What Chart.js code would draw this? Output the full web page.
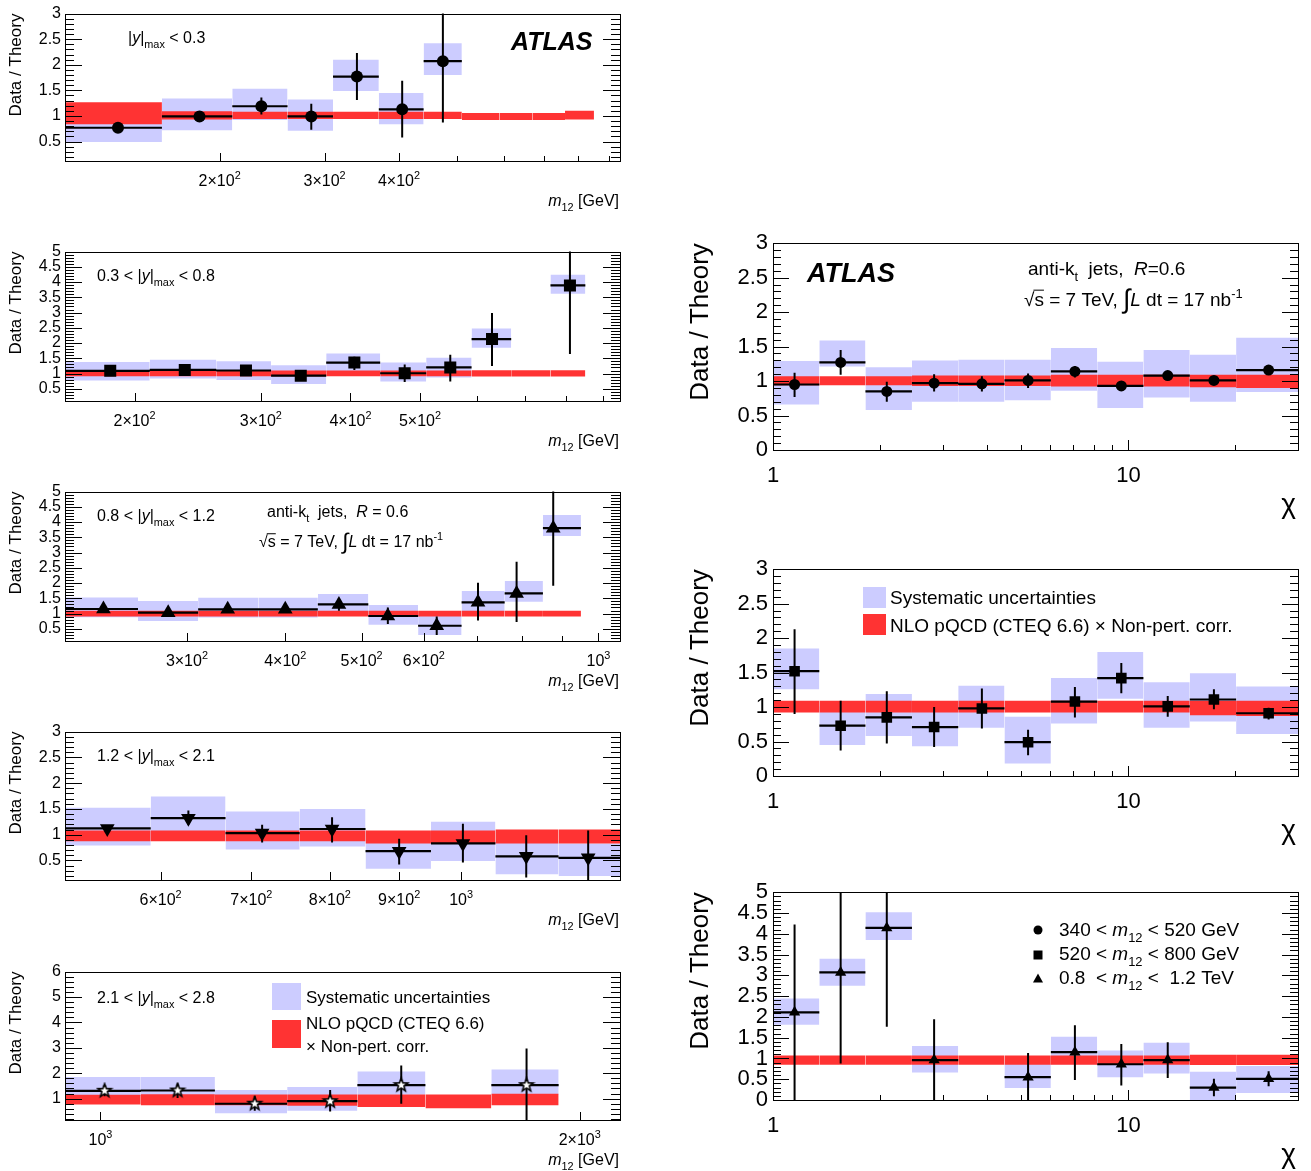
<!DOCTYPE html>
<html>
<head>
<meta charset="utf-8">
<title>Data / Theory</title>
<script src="https://cdn.jsdelivr.net/npm/chart.js@4.4.1/dist/chart.umd.min.js"></script>
<style>
  html, body { margin: 0; padding: 0; background: #fff; }
  body { position: relative; width: 1311px; height: 1171px; overflow: hidden; }
  canvas { position: absolute; }
</style>
</head>
<body>
<canvas id="p1"></canvas>
<canvas id="p2"></canvas>
<canvas id="p3"></canvas>
<canvas id="p4"></canvas>
<canvas id="p5"></canvas>
<canvas id="p6"></canvas>
<canvas id="p7"></canvas>
<canvas id="p8"></canvas>
<script>
// ---------- data ----------
// |y|max < 0.3
const p1Edges = [110, 160, 210, 260, 310, 370, 440, 510, 590, 670, 760, 850];
const p1Bins = [0, 1, 2, 3, 4, 5, 6];
const p1X = [135, 185, 235, 285, 340, 405, 474];
const p1Y = [0.77, 0.99, 1.19, 0.99, 1.77, 1.13, 2.07];
const p1ErrHi = [0.80, 1.02, 1.36, 1.24, 2.23, 1.69, 3.2];
const p1ErrLo = [0.74, 0.96, 1.03, 0.73, 1.31, 0.58, 0.87];
const p1SysHi = [1.05, 1.34, 1.53, 1.32, 2.10, 1.45, 2.42];
const p1SysLo = [0.49, 0.72, 0.92, 0.71, 1.49, 0.84, 1.80];
const p1RedHi = [1.27, 1.09, 1.08, 1.08, 1.08, 1.08, 1.08, 1.06, 1.06, 1.06, 1.10];
const p1RedLo = [0.84, 0.93, 0.94, 0.94, 0.94, 0.94, 0.94, 0.92, 0.92, 0.92, 0.93];
const p1XTicks = [200, 300, 400];
const p1XLabels = ['2×10²', '3×10²', '4×10²'];

// 0.3 < |y|max < 0.8
const p2Edges = [160, 210, 260, 310, 370, 440, 510, 590, 670, 760, 850];
const p2Bins = [0, 1, 2, 3, 4, 5, 6, 7, 9];
const p2X = [185, 235, 286, 341, 405, 476, 551, 630, 809];
const p2Y = [1.09, 1.12, 1.10, 0.93, 1.36, 1.01, 1.20, 2.13, 3.89];
const p2ErrHi = [1.13, 1.16, 1.14, 0.97, 1.55, 1.30, 1.62, 2.99, 5.3];
const p2ErrLo = [1.05, 1.08, 1.06, 0.89, 1.12, 0.72, 0.74, 1.25, 1.64];
const p2SysHi = [1.38, 1.45, 1.40, 1.27, 1.66, 1.36, 1.52, 2.48, 4.24];
const p2SysLo = [0.77, 0.84, 0.79, 0.66, 1.05, 0.74, 0.87, 1.85, 3.62];
const p2RedHi = [1.10, 1.10, 1.10, 1.10, 1.10, 1.10, 1.10, 1.11, 1.11, 1.11];
const p2RedLo = [0.91, 0.91, 0.91, 0.91, 0.91, 0.91, 0.91, 0.90, 0.90, 0.90];
const p2XTicks = [200, 300, 400, 500];
const p2XLabels = ['2×10²', '3×10²', '4×10²', '5×10²'];

// 0.8 < |y|max < 1.2
const p3Edges = [210, 260, 310, 370, 440, 510, 590, 670, 760, 850, 950];
const p3Bins = [0, 1, 2, 3, 4, 5, 6, 7, 8, 9];
const p3X = [235, 284, 338, 400, 468, 540, 623, 703, 787, 876];
const p3Y = [1.15, 1.03, 1.14, 1.14, 1.30, 0.92, 0.60, 1.37, 1.66, 3.80];
const p3ErrHi = [1.19, 1.07, 1.18, 1.18, 1.50, 1.20, 0.90, 2.01, 2.70, 5.3];
const p3ErrLo = [1.11, 0.99, 1.10, 1.10, 1.09, 0.66, 0.30, 0.77, 0.72, 1.91];
const p3SysHi = [1.53, 1.41, 1.52, 1.52, 1.64, 1.28, 0.96, 1.74, 2.07, 4.23];
const p3SysLo = [0.88, 0.76, 0.87, 0.87, 1.03, 0.63, 0.30, 1.04, 1.39, 3.54];
const p3RedHi = [1.09, 1.09, 1.09, 1.09, 1.09, 1.09, 1.09, 1.09, 1.09, 1.09];
const p3RedLo = [0.90, 0.90, 0.90, 0.90, 0.90, 0.90, 0.90, 0.90, 0.90, 0.90];
const p3XTicks = [300, 400, 500, 600, 1000];
const p3XLabels = ['3×10²', '4×10²', '5×10²', '6×10²', '10³'];

// 1.2 < |y|max < 2.1
const p4Edges = [510, 590, 670, 760, 850, 950, 1060, 1180, 1310];
const p4Bins = [0, 1, 2, 3, 4, 5, 6, 7];
const p4X = [548, 629, 713, 803, 900, 1003, 1117, 1241];
const p4Y = [1.12, 1.32, 1.03, 1.11, 0.68, 0.83, 0.58, 0.55];
const p4ErrHi = [1.16, 1.47, 1.19, 1.34, 0.92, 1.21, 0.99, 1.08];
const p4ErrLo = [1.08, 1.19, 0.85, 0.85, 0.42, 0.46, 0.17, 0.05];
const p4SysHi = [1.52, 1.74, 1.45, 1.50, 1.05, 1.25, 0.87, 0.83];
const p4SysLo = [0.79, 1.01, 0.71, 0.77, 0.34, 0.49, 0.23, 0.20];
const p4RedHi = [1.08, 1.08, 1.08, 1.08, 1.08, 1.08, 1.10, 1.10];
const p4RedLo = [0.87, 0.87, 0.87, 0.87, 0.83, 0.83, 0.83, 0.83];
const p4XTicks = [600, 700, 800, 900, 1000];
const p4XLabels = ['6×10²', '7×10²', '8×10²', '9×10²', '10³'];

// 2.1 < |y|max < 2.8
const p5Edges = [950, 1060, 1180, 1310, 1450, 1600, 1760, 1940];
const p5Bins = [0, 1, 2, 3, 4, 6];
const p5X = [1006, 1118, 1250, 1394, 1545, 1852];
const p5Y = [1.31, 1.32, 0.80, 0.90, 1.53, 1.53];
const p5ErrHi = [1.53, 1.60, 1.09, 1.34, 2.30, 2.97];
const p5ErrLo = [1.09, 1.03, 0.52, 0.49, 0.80, 0.10];
const p5SysHi = [1.85, 1.85, 1.34, 1.46, 2.07, 2.15];
const p5SysLo = [1.11, 1.11, 0.43, 0.52, 1.15, 1.15];
const p5RedHi = [1.15, 1.17, 1.16, 1.16, 1.16, 1.16, 1.19];
const p5RedLo = [0.77, 0.74, 0.74, 0.72, 0.67, 0.62, 0.74];
const p5XTicks = [1000, 2000];
const p5XLabels = ['10³', '2×10³'];

// chi distributions (right column)
const chiEdges = [1, 1.35, 1.82, 2.46, 3.32, 4.48, 6.05, 8.17, 11.02, 14.88, 20.09, 30];
const chiX = [1.15, 1.55, 2.09, 2.84, 3.87, 5.22, 7.07, 9.55, 12.9, 17.4, 24.8];
const chiXTicks = [1, 10];
const chiXLabels = ['1', '10'];

// 340 < m12 < 520 GeV
const p6Bins = [0, 1, 2, 3, 4, 5, 6, 7, 8, 9, 10];
const p6Y = [0.95, 1.27, 0.85, 0.97, 0.96, 1.01, 1.14, 0.93, 1.08, 1.01, 1.16];
const p6ErrHi = [1.12, 1.45, 0.99, 1.10, 1.07, 1.11, 1.22, 0.97, 1.12, 1.05, 1.19];
const p6ErrLo = [0.77, 1.09, 0.70, 0.85, 0.85, 0.90, 1.05, 0.89, 1.04, 0.97, 1.13];
const p6SysHi = [1.29, 1.59, 1.20, 1.30, 1.31, 1.31, 1.48, 1.28, 1.45, 1.38, 1.63];
const p6SysLo = [0.66, 1.21, 0.58, 0.70, 0.70, 0.72, 0.86, 0.61, 0.76, 0.70, 0.84];
const p6RedHi = [1.07, 1.07, 1.07, 1.08, 1.08, 1.08, 1.09, 1.09, 1.09, 1.09, 1.09];
const p6RedLo = [0.94, 0.94, 0.94, 0.93, 0.93, 0.93, 0.92, 0.92, 0.92, 0.91, 0.90];

// 520 < m12 < 800 GeV
const p7Bins = [0, 1, 2, 3, 4, 5, 6, 7, 8, 9, 10];
const p7Y = [1.52, 0.73, 0.85, 0.71, 0.98, 0.49, 1.08, 1.42, 1.01, 1.11, 0.91];
const p7ErrHi = [2.13, 1.09, 1.23, 1.00, 1.27, 0.67, 1.29, 1.64, 1.16, 1.26, 0.99];
const p7ErrLo = [0.90, 0.37, 0.47, 0.42, 0.69, 0.30, 0.85, 1.20, 0.86, 0.97, 0.82];
const p7SysHi = [1.85, 1.01, 1.19, 1.00, 1.31, 0.86, 1.42, 1.80, 1.36, 1.49, 1.30];
const p7SysLo = [1.26, 0.45, 0.58, 0.43, 0.70, 0.18, 0.76, 1.12, 0.70, 0.79, 0.61];
const p7RedHi = [1.09, 1.09, 1.09, 1.09, 1.09, 1.09, 1.09, 1.09, 1.09, 1.09, 1.09];
const p7RedLo = [0.92, 0.92, 0.92, 0.92, 0.92, 0.92, 0.92, 0.92, 0.92, 0.88, 0.87];

// 0.8 < m12 < 1.2 TeV
const p8Bins = [0, 1, 2, 3, 5, 6, 7, 8, 9, 10];
const p8Y = [2.11, 3.07, 4.14, 0.96, 0.55, 1.15, 0.86, 0.96, 0.30, 0.51];
const p8ErrHi = [4.22, 5.3, 5.3, 1.94, 1.13, 1.80, 1.35, 1.39, 0.51, 0.69];
const p8ErrLo = [0, 0.88, 1.76, 0, 0, 0.48, 0.35, 0.53, 0.09, 0.33];
const p8SysHi = [2.44, 3.40, 4.52, 1.30, 0.88, 1.52, 1.19, 1.38, 0.68, 0.82];
const p8SysLo = [1.81, 2.75, 3.85, 0.66, 0.29, 0.86, 0.55, 0.64, 0, 0.17];
const p8RedHi = [1.07, 1.07, 1.07, 1.07, 1.07, 1.07, 1.07, 1.07, 1.07, 1.09, 1.09];
const p8RedLo = [0.85, 0.85, 0.85, 0.85, 0.85, 0.85, 0.85, 0.85, 0.85, 0.84, 0.84];

const BLUE = 'rgb(204,204,255)';
const RED = 'rgb(255,51,51)';
const FONT = '"Liberation Sans", Arial, Helvetica, sans-serif';

// open star marker for the last rapidity bin
function starMarker(r) {
  const c = document.createElement('canvas');
  c.width = c.height = 2 * r + 4;
  const g = c.getContext('2d');
  const m = r + 2;
  g.beginPath();
  for (let i = 0; i < 10; i++) {
    const rr = i % 2 ? r * 0.42 : r;
    const a = -Math.PI / 2 + i * Math.PI / 5;
    g.lineTo(m + rr * Math.cos(a), m + rr * Math.sin(a));
  }
  g.closePath();
  g.fillStyle = '#fff';
  g.fill();
  g.lineWidth = 1.6;
  g.strokeStyle = '#000';
  g.stroke();
  return c;
}

const panels = [
  { id: 'p1', left: 0, top: 0, w: 640, h: 215, frame: [65, 12, 620, 161], xMin: 110, xMax: 940, yMin: 0.12, yMax: 3, yStep: 0.5, yMinor: 0.1,
    edges: p1Edges, bins: p1Bins, xs: p1X, ys: p1Y, eHi: p1ErrHi, eLo: p1ErrLo, sHi: p1SysHi, sLo: p1SysLo, rHi: p1RedHi, rLo: p1RedLo,
    xTicks: p1XTicks, xLabels: p1XLabels, marker: { style: 'circle', r: 6 } },
  { id: 'p2', left: 0, top: 238, w: 640, h: 215, frame: [65, 250, 620, 401], xMin: 160, xMax: 950, yMin: 0.1, yMax: 5, yStep: 0.5, yMinor: 0.1,
    edges: p2Edges, bins: p2Bins, xs: p2X, ys: p2Y, eHi: p2ErrHi, eLo: p2ErrLo, sHi: p2SysHi, sLo: p2SysLo, rHi: p2RedHi, rLo: p2RedLo,
    xTicks: p2XTicks, xLabels: p2XLabels, marker: { style: 'rect', r: 8.5 } },
  { id: 'p3', left: 0, top: 478, w: 640, h: 215, frame: [65, 490, 620, 641], xMin: 210, xMax: 1065, yMin: 0.1, yMax: 5, yStep: 0.5, yMinor: 0.1,
    edges: p3Edges, bins: p3Bins, xs: p3X, ys: p3Y, eHi: p3ErrHi, eLo: p3ErrLo, sHi: p3SysHi, sLo: p3SysLo, rHi: p3RedHi, rLo: p3RedLo,
    xTicks: p3XTicks, xLabels: p3XLabels, marker: { style: 'triangle', r: 8.5 } },
  { id: 'p4', left: 0, top: 718, w: 640, h: 215, frame: [65, 730, 620, 880], xMin: 510, xMax: 1310, yMin: 0.12, yMax: 3, yStep: 0.5, yMinor: 0.1,
    edges: p4Edges, bins: p4Bins, xs: p4X, ys: p4Y, eHi: p4ErrHi, eLo: p4ErrLo, sHi: p4SysHi, sLo: p4SysLo, rHi: p4RedHi, rLo: p4RedLo,
    xTicks: p4XTicks, xLabels: p4XLabels, marker: { style: 'triangle', r: 8.5, rot: 180 } },
  { id: 'p5', left: 0, top: 958, w: 640, h: 213, frame: [65, 970, 620, 1120], xMin: 950, xMax: 2120, yMin: 0.16, yMax: 6, yStep: 1, yMinor: 0.2,
    edges: p5Edges, bins: p5Bins, xs: p5X, ys: p5Y, eHi: p5ErrHi, eLo: p5ErrLo, sHi: p5SysHi, sLo: p5SysLo, rHi: p5RedHi, rLo: p5RedLo,
    xTicks: p5XTicks, xLabels: p5XLabels, marker: { style: starMarker(7), r: 7 } },
  { id: 'p6', big: true, left: 680, top: 225, w: 631, h: 300, frame: [773, 238, 1298, 450], xMin: 1, xMax: 30, yMin: 0, yMax: 3, yStep: 0.5, yMinor: 0.1,
    edges: chiEdges, bins: p6Bins, xs: null, ys: p6Y, eHi: p6ErrHi, eLo: p6ErrLo, sHi: p6SysHi, sLo: p6SysLo, rHi: p6RedHi, rLo: p6RedLo,
    xTicks: chiXTicks, xLabels: chiXLabels, marker: { style: 'circle', r: 5.5 } },
  { id: 'p7', big: true, left: 680, top: 551, w: 631, h: 300, frame: [773, 564, 1298, 776], xMin: 1, xMax: 30, yMin: 0, yMax: 3, yStep: 0.5, yMinor: 0.1,
    edges: chiEdges, bins: p7Bins, xs: null, ys: p7Y, eHi: p7ErrHi, eLo: p7ErrLo, sHi: p7SysHi, sLo: p7SysLo, rHi: p7RedHi, rLo: p7RedLo,
    xTicks: chiXTicks, xLabels: chiXLabels, marker: { style: 'rect', r: 7.5 } },
  { id: 'p8', big: true, left: 680, top: 874, w: 631, h: 297, frame: [773, 887, 1298, 1100], xMin: 1, xMax: 30, yMin: 0, yMax: 5, yStep: 0.5, yMinor: 0.1,
    edges: chiEdges, bins: p8Bins, xs: null, ys: p8Y, eHi: p8ErrHi, eLo: p8ErrLo, sHi: p8SysHi, sLo: p8SysLo, rHi: p8RedHi, rLo: p8RedLo,
    xTicks: chiXTicks, xLabels: chiXLabels, marker: { style: 'triangle', r: 6.5 } }
];

// texts, legend swatches and legend markers, in page coordinates
const mTitle = [['m', 'i'], ['12', '_'], [' [GeV]']];
const yLab = (a, b) => [[a], ['|'], ['y', 'i'], ['|'], ['max', '_'], [b]];
const sqrtLine = [['√'], ['s', 'o'], [' = 7 TeV, '], ['∫', 'I'], ['L', 'i'], [' dt = 17 nb'], ['-1', '^']];
const decor = {
  p1: { texts: [
    { x: 128, y: 43, s: 16, parts: yLab('', ' < 0.3') },
    { x: 511, y: 50, s: 25, parts: [['ATLAS', 'bi']] },
    { x: 619, y: 206, s: 16, a: 'right', parts: mTitle } ] },
  p2: { texts: [
    { x: 97, y: 281, s: 16, parts: yLab('0.3 < ', ' < 0.8') },
    { x: 619, y: 446, s: 16, a: 'right', parts: mTitle } ] },
  p3: { texts: [
    { x: 97, y: 521, s: 16, parts: yLab('0.8 < ', ' < 1.2') },
    { x: 267, y: 517, s: 16, parts: [['anti-k'], ['t', '_'], ['  jets,  '], ['R', 'i'], [' = 0.6']] },
    { x: 259, y: 547, s: 16, parts: sqrtLine },
    { x: 619, y: 686, s: 16, a: 'right', parts: mTitle } ] },
  p4: { texts: [
    { x: 97, y: 761, s: 16, parts: yLab('1.2 < ', ' < 2.1') },
    { x: 619, y: 925, s: 16, a: 'right', parts: mTitle } ] },
  p5: { texts: [
    { x: 97, y: 1003, s: 16, parts: yLab('2.1 < ', ' < 2.8') },
    { x: 306, y: 1003, s: 17, parts: [['Systematic uncertainties']] },
    { x: 306, y: 1029, s: 17, parts: [['NLO pQCD (CTEQ 6.6)']] },
    { x: 306, y: 1052, s: 17, parts: [['× Non-pert. corr.']] },
    { x: 619, y: 1165, s: 16, a: 'right', parts: mTitle } ],
    boxes: [ { x: 272, y: 983, w: 29, h: 27, c: BLUE }, { x: 272, y: 1020, w: 29, h: 28, c: RED } ] },
  p6: { texts: [
    { x: 807, y: 282, s: 27, parts: [['ATLAS', 'bi']] },
    { x: 1028, y: 275, s: 19, parts: [['anti-k'], ['t', '_'], ['  jets,  '], ['R', 'i'], ['=0.6']] },
    { x: 1024, y: 306, s: 19, parts: sqrtLine },
    { x: 1296, y: 513, s: 28, a: 'right', parts: [['χ']] } ] },
  p7: { texts: [
    { x: 890, y: 604, s: 19, parts: [['Systematic uncertainties']] },
    { x: 890, y: 632, s: 19, parts: [['NLO pQCD (CTEQ 6.6) × Non-pert. corr.']] },
    { x: 1296, y: 839, s: 28, a: 'right', parts: [['χ']] } ],
    boxes: [ { x: 863, y: 587, w: 23, h: 21, c: BLUE }, { x: 863, y: 614, w: 23, h: 21, c: RED } ] },
  p8: { texts: [
    { x: 1059, y: 936, s: 19, parts: [['340 < '], ['m', 'i'], ['12', '_'], [' < 520 GeV']] },
    { x: 1059, y: 960, s: 19, parts: [['520 < '], ['m', 'i'], ['12', '_'], [' < 800 GeV']] },
    { x: 1059, y: 984, s: 19, parts: [['0.8  < '], ['m', 'i'], ['12', '_'], [' <  1.2 TeV']] },
    { x: 1296, y: 1163, s: 28, a: 'right', parts: [['χ']] } ],
    marks: [ { x: 1038, y: 930, t: 'circle' }, { x: 1038, y: 955, t: 'square' }, { x: 1038, y: 979, t: 'triangle' } ] }
};

function fontFor(st, sz) {
  return (st.includes('b') ? 'bold ' : '') + (st.includes('i') ? 'italic ' : '') + sz + 'px ' + FONT;
}

function richText(ctx, x, y, parts, size, align) {
  const items = parts.map(([t, st = '']) => {
    let sz = size, dy = 0;
    if (st.includes('_')) { sz = size * 0.68; dy = size * 0.3; }
    if (st.includes('^')) { sz = size * 0.68; dy = -size * 0.42; }
    if (st.includes('I')) { sz = size * 1.4; dy = size * 0.12; }
    ctx.font = fontFor(st, sz);
    return { t, st, sz, dy, w: ctx.measureText(t).width };
  });
  const total = items.reduce((s, it) => s + it.w, 0);
  let cx = align === 'right' ? x - total : align === 'center' ? x - total / 2 : x;
  ctx.fillStyle = '#000';
  ctx.textAlign = 'left';
  ctx.textBaseline = 'alphabetic';
  items.forEach(it => {
    ctx.font = fontFor(it.st, it.sz);
    ctx.fillText(it.t, cx, y + it.dy);
    if (it.st.includes('o')) ctx.fillRect(cx - 1, y - size * 0.86, it.w + 1, 1);
    cx += it.w;
  });
}

// '2×10²' -> mantissa part plus a real superscript
function tickParts(label) {
  const m = label.match(/^(.*?)([²³])$/);
  if (!m) return [[label]];
  return [[m[1]], [m[2] === '²' ? '2' : '3', '^']];
}

const framePlugin = {
  id: 'rootFrame',
  afterDatasetsDraw(chart) {
    const p = chart.$panel;
    const { ctx, chartArea: a } = chart;
    const x = chart.scales.x, y = chart.scales.y;
    const yLen = p.big ? [16, 8] : [17, 9];
    const xLen = p.big ? [10, 5] : [8, 5];
    ctx.save();
    ctx.strokeStyle = '#000';
    ctx.lineWidth = 1;
    ctx.beginPath();
    const n0 = Math.ceil(p.yMin / p.yMinor - 1e-6), n1 = Math.floor(p.yMax / p.yMinor + 1e-6);
    for (let n = n0; n <= n1; n++) {
      const v = n * p.yMinor;
      const q = v / p.yStep;
      const len = Math.abs(q - Math.round(q)) < 1e-6 ? yLen[0] : yLen[1];
      const py = Math.round(y.getPixelForValue(v)) + 0.5;
      ctx.moveTo(a.left, py); ctx.lineTo(a.left + len, py);
      ctx.moveTo(a.right, py); ctx.lineTo(a.right - len, py);
    }
    for (let e = Math.floor(Math.log10(p.xMin)); e <= Math.ceil(Math.log10(p.xMax)); e++) {
      for (let k = 1; k < 10; k++) {
        const v = k * Math.pow(10, e);
        if (v <= p.xMin * 1.0001 || v >= p.xMax * 0.9999) continue;
        const major = k === 1 || p.xTicks.some(m => Math.abs(m - v) < 1e-6 * v);
        const px = Math.round(x.getPixelForValue(v)) + 0.5;
        ctx.moveTo(px, a.bottom); ctx.lineTo(px, a.bottom - (major ? xLen[0] : xLen[1]));
      }
    }
    ctx.stroke();
    ctx.strokeRect(Math.round(a.left) + 0.5, Math.round(a.top) + 0.5, Math.round(a.right - a.left), Math.round(a.bottom - a.top));
    ctx.restore();
  },
  afterDraw(chart) {
    const p = chart.$panel;
    const d = decor[p.id];
    const ctx = chart.ctx;
    const x = chart.scales.x;
    ctx.save();
    // x tick labels at the scale's tick positions
    x.ticks.forEach((t, i) => {
      const size = p.big ? 22 : 16;
      const base = chart.chartArea.bottom + (p.big ? 32 : 25);
      richText(ctx, x.getPixelForValue(t.value), base, tickParts(p.xLabels[i]), size, 'center');
    });
    (d.boxes || []).forEach(b => {
      ctx.fillStyle = b.c;
      ctx.fillRect(b.x - p.left, b.y - p.top, b.w, b.h);
    });
    (d.marks || []).forEach(m => {
      const mx = m.x - p.left, my = m.y - p.top;
      ctx.fillStyle = '#000';
      ctx.beginPath();
      if (m.t === 'circle') ctx.arc(mx, my, 4.5, 0, Math.PI * 2);
      if (m.t === 'square') ctx.rect(mx - 4.5, my - 4.5, 9, 9);
      if (m.t === 'triangle') { ctx.moveTo(mx, my - 5.5); ctx.lineTo(mx + 5, my + 3.5); ctx.lineTo(mx - 5, my + 3.5); ctx.closePath(); }
      ctx.fill();
    });
    d.texts.forEach(t => richText(ctx, t.x - p.left, t.y - p.top, t.parts, t.s, t.a));
    ctx.restore();
  }
};

function boxSets(edges, bins, hi, lo, color, order) {
  return bins.map((b, i) => ({
    data: [{ x: edges[b], y: hi[i] }, { x: edges[b + 1], y: hi[i] }],
    fill: { value: lo[i] },
    backgroundColor: color,
    borderColor: 'rgba(0,0,0,0)',
    borderWidth: 0,
    pointRadius: 0,
    order: order,
    clip: 0
  }));
}

function makeChart(p) {
  const cv = document.getElementById(p.id);
  cv.width = p.w;
  cv.height = p.h;
  cv.style.left = p.left + 'px';
  cv.style.top = p.top + 'px';

  const big = !!p.big;
  const tickSize = big ? 22 : 16;
  const xAxisH = big ? 40 : 30;
  const [fl, ft, fr, fb] = p.frame;
  const px = i => (p.xs ? p.xs[i] : chiX[p.bins[i]]);

  const hBar = [], vBar = [];
  p.bins.forEach((b, i) => {
    hBar.push({ x: p.edges[b], y: p.ys[i] }, { x: p.edges[b + 1], y: p.ys[i] }, { x: p.edges[b + 1], y: null });
    vBar.push({ x: px(i), y: p.eLo[i] }, { x: px(i), y: p.eHi[i] }, { x: px(i), y: null });
  });
  const redBins = p.rHi.map((v, i) => i);

  const datasets = [
    {
      data: p.bins.map((b, i) => ({ x: px(i), y: p.ys[i] })),
      showLine: false,
      pointStyle: p.marker.style,
      pointRadius: p.marker.r,
      pointRotation: p.marker.rot || 0,
      pointBackgroundColor: '#000',
      pointBorderColor: '#000',
      pointBorderWidth: 0,
      order: 0
    },
    { data: hBar, borderColor: '#000', borderWidth: 2.2, pointRadius: 0, spanGaps: false, order: 1, clip: 0 },
    { data: vBar, borderColor: '#000', borderWidth: 2, pointRadius: 0, spanGaps: false, order: 1, clip: 0 }
  ]
    .concat(boxSets(p.edges, redBins, p.rHi, p.rLo, RED, 2))
    .concat(boxSets(p.edges, p.bins, p.sHi, p.sLo, BLUE, 3));

  const yTicks = [];
  for (let v = Math.ceil(p.yMin / p.yStep - 1e-6) * p.yStep; v <= p.yMax + 1e-9; v += p.yStep) yTicks.push(+v.toFixed(2));

  return new Chart(cv, {
    type: 'line',
    data: { datasets: datasets },
    options: {
      animation: false,
      responsive: false,
      events: [],
      layout: { padding: { left: 0, right: p.left + p.w - fr, top: ft - p.top, bottom: p.top + p.h - fb - xAxisH } },
      plugins: { legend: { display: false }, tooltip: { enabled: false } },
      scales: {
        x: {
          type: 'logarithmic',
          min: p.xMin,
          max: p.xMax,
          grid: { display: false, drawTicks: false },
          border: { display: false },
          ticks: { display: false, autoSkip: false },
          afterBuildTicks: s => { s.ticks = p.xTicks.map(v => ({ value: v })); },
          afterFit: s => { s.height = xAxisH; }
        },
        y: {
          type: 'linear',
          min: p.yMin,
          max: p.yMax,
          grid: { display: false, drawTicks: false },
          border: { display: false },
          ticks: {
            color: '#000',
            font: { family: FONT, size: tickSize },
            padding: big ? 5 : 4,
            autoSkip: false,
            callback: v => String(v)
          },
          title: {
            display: true,
            text: 'Data / Theory',
            align: 'end',
            color: '#000',
            font: { family: FONT, size: big ? 26 : 17 },
            padding: { top: big ? 5 : 6, bottom: 0 }
          },
          afterBuildTicks: s => { s.ticks = yTicks.map(v => ({ value: v })); },
          afterFit: s => { s.width = fl - p.left; }
        }
      }
    },
    plugins: [framePlugin]
  });
}

// the plugin reads the panel spec from the chart
Chart.register({
  id: 'panelRef',
  beforeInit(chart) { chart.$panel = panels.find(q => q.id === chart.canvas.id); }
});

panels.forEach(makeChart);
</script>
</body>
</html>
